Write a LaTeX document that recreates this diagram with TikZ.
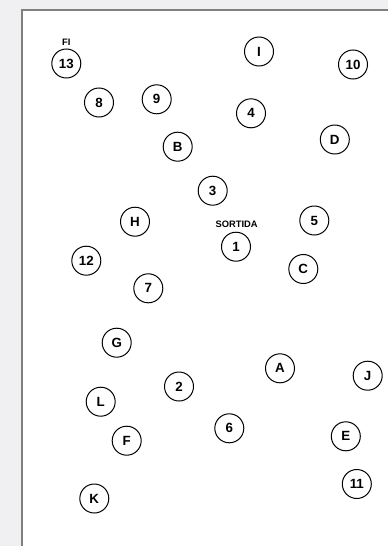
\documentclass[tikz,border=0pt]{standalone}
\usepackage{fontspec}
\setmainfont{Liberation Sans}
\definecolor{bggray}{HTML}{F0F0F2}
\definecolor{edgegray}{HTML}{808080}
\begin{document}
\begin{tikzpicture}[x=0.75pt,y=-0.75pt,
  stop/.style={circle,draw=black,line width=0.75pt,minimum size=21.75pt,inner sep=0pt,font=\bfseries\fontsize{10}{12}\selectfont},
  tag/.style={inner sep=0pt,font=\bfseries\fontsize{7}{8}\selectfont}]
\useasboundingbox (0,0) rectangle (388,546);
\fill[bggray] (0,0) rectangle (388,546);
\fill[white] (21.5,10) rectangle (388,546);
\draw[edgegray,line width=1.5pt] (21.5,546) -- (21.5,10) -- (388,10);
\node[stop] (n13) at (66.3,63.5) {13};
\node[tag] (fi) at (66.3,42) {FI};
\node[stop] (n8) at (99,102.5) {8};
\node[stop] (n9) at (156.7,99.3) {9};
\node[stop] (nI) at (259,51.5) {I};
\node[stop] (n10) at (353,64.5) {10};
\node[stop] (n4) at (251,113.3) {4};
\node[stop] (nD) at (334.8,139.5) {D};
\node[stop] (nB) at (177.7,146.7) {B};
\node[stop] (n3) at (212.7,190.7) {3};
\node[stop] (nH) at (135,221.7) {H};
\node[stop] (n5) at (314.3,220.5) {5};
\node[stop] (n1) at (236,246.7) {1};
\node[tag] (sortida) at (236.7,224.5) {SORTIDA};
\node[stop] (n12) at (86.3,260.7) {12};
\node[stop] (nC) at (303.3,269) {C};
\node[stop] (n7) at (148.3,288.3) {7};
\node[stop] (nG) at (116.7,342.7) {G};
\node[stop] (nA) at (280,368.3) {A};
\node[stop] (nJ) at (367.7,375.7) {J};
\node[stop] (n2) at (179,386.5) {2};
\node[stop] (nL) at (100.7,401.7) {L};
\node[stop] (n6) at (229.3,428.3) {6};
\node[stop] (nE) at (345.8,436.3) {E};
\node[stop] (nF) at (126.7,440.7) {F};
\node[stop] (n11) at (356.8,484) {11};
\node[stop] (nK) at (94.3,498.5) {K};
\end{tikzpicture}
\end{document}
